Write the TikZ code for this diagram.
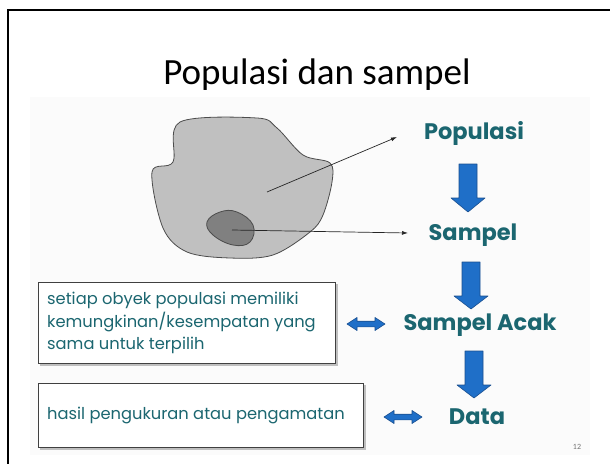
\documentclass[tikz,border=0pt]{standalone}
\usepackage{fontspec}
\setmainfont{Carlito}
\newfontfamily\comicfont{Poppins}
\usetikzlibrary{arrows.meta}
\definecolor{tealtext}{HTML}{1B6670}
\definecolor{blockblue}{HTML}{1F6FC8}
\definecolor{blockedge}{HTML}{1A4F8F}
\definecolor{blobfill}{HTML}{C0C0C0}
\definecolor{blobinner}{HTML}{808080}
\tikzset{
  label/.style={font=\comicfont\bfseries\fontsize{22.5}{26}\selectfont, text=tealtext, inner sep=0pt},
  boxtext/.style={font=\comicfont\fontsize{16.3}{22.5}\selectfont, text=tealtext, align=left, inner sep=0pt, anchor=west},
  infobox/.style={draw=black!75, line width=0.8pt, fill=white},
  blockarrow/.style={fill=blockblue, draw=blockedge, line width=0.6pt, line join=round},
  thinarrow/.style={-{Latex[length=6pt,width=4pt]}, line width=0.7pt, black!85},
  blob/.style={draw=black!70, line width=0.8pt}
}
\begin{document}
\begin{tikzpicture}[x=1pt,y=-1pt]
\useasboundingbox (0,0) rectangle (610,463);
\fill[white] (0,0) rectangle (610,463);
\fill[black!1.5] (30,97) rectangle (590,455);
\draw[line width=2pt] (8,470) -- (8,10) -- (620,10);
\node[font=\fontsize{37}{42}\selectfont, anchor=base] (title) at (317,84) {Populasi dan sampel};

% blobs
\draw[blob, fill=blobfill] plot[smooth cycle, tension=0.55] coordinates {
 (180,122) (257,118) (277,128) (303,155) (330,163) (332,182) (323,215)
 (310,232) (273,255) (230,258) (187,252) (163,228) (152,172) (173,162)};
\draw[blob, fill=blobinner] plot[smooth cycle, tension=0.7] coordinates {
 (207,222) (220,212) (237,212) (253,225) (250,242) (233,245) (213,235)};
\coordinate (popin) at (267,192);
\coordinate (sampin) at (232,230);

% labels
\node[label] (pop) at (474,133) {Populasi};
\node[label] (samp) at (473,235) {Sampel};
\node[label] (acak) at (480,325) {Sampel Acak};
\node[label] (data) at (477,417) {Data};
\node[font=\fontsize{8}{9}\selectfont, text=black!55] (num) at (577,447) {12};

\draw[thinarrow] (popin) -- (397,137) coordinate (popend);
\draw[thinarrow] (sampin) -- (408,233) coordinate (sampend);

% block arrows
\newcommand\downarrowblock[4]{%
  \draw[blockarrow] (#1-9,#2) -- (#1+9,#2) -- (#1+9,#3) -- (#1+17,#3) -- (#1,#4) -- (#1-17,#3) -- (#1-9,#3) -- cycle;}
\downarrowblock{468}{164}{198}{212}
\downarrowblock{471}{262}{296}{309}
\downarrowblock{474}{351}{385}{398}

\newcommand\dblarrow[3]{%
  \draw[blockarrow] (#1,#3) -- (#1+10,#3-6.5) -- (#1+10,#3-2.8) -- (#2-10,#3-2.8) -- (#2-10,#3-6.5) -- (#2,#3) -- (#2-10,#3+6.5) -- (#2-10,#3+2.8) -- (#1+10,#3+2.8) -- (#1+10,#3+6.5) -- cycle;}
\dblarrow{347}{385}{324}
\dblarrow{384}{422}{417}

% boxes
\draw[black!25, line width=1.5pt] (40,365) -- (337,365) -- (337,284);
\draw[infobox] (38,282) rectangle (335,363);
\node[boxtext] (box1) at (47,323) {setiap obyek populasi memiliki\\kemungkinan/kesempatan yang\\sama untuk terpilih};
\draw[black!25, line width=1.5pt] (40,449) -- (365,449) -- (365,385);
\draw[infobox] (38,383) rectangle (363,447);
\node[boxtext] (box2) at (47,415) {hasil pengukuran atau pengamatan};
\end{tikzpicture}
\end{document}
